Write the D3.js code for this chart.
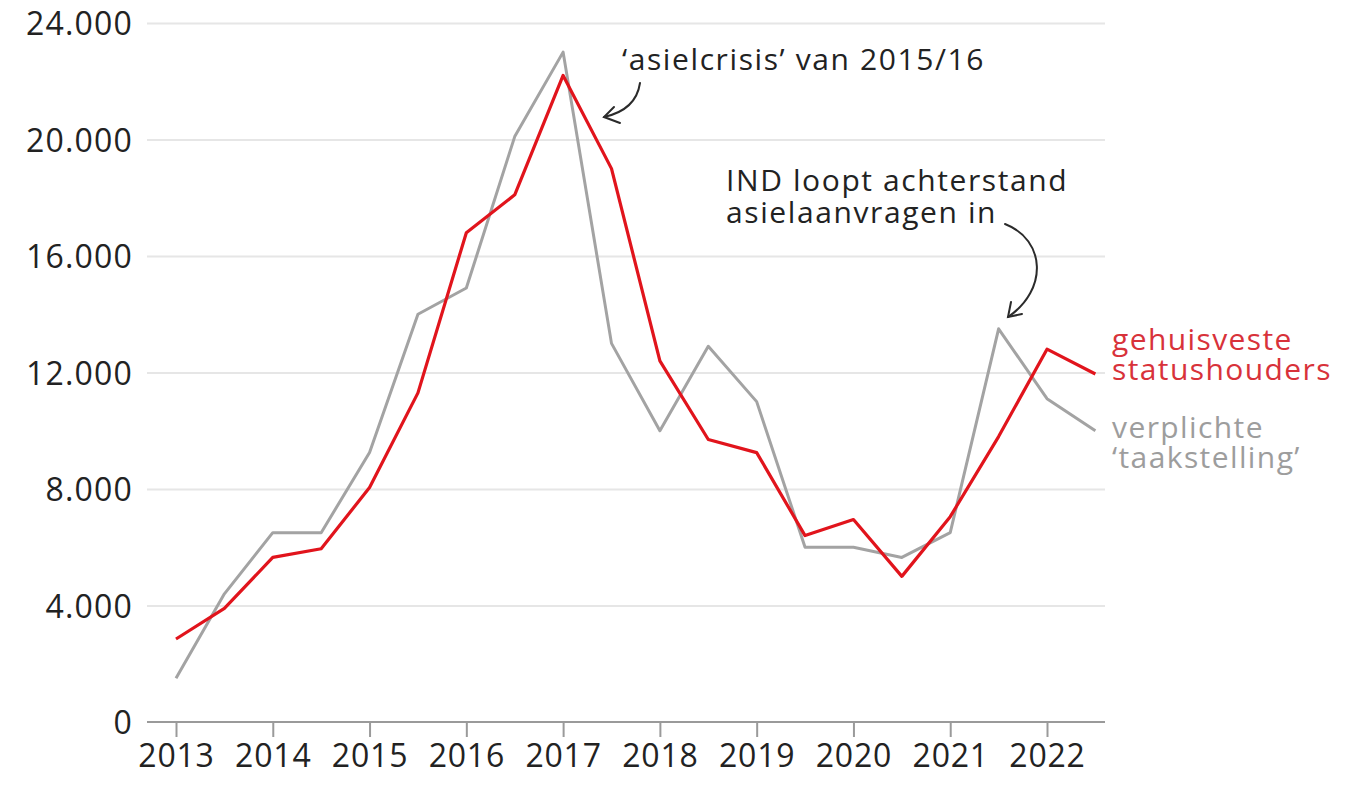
<!DOCTYPE html>
<html>
<head>
<meta charset="utf-8">
<script src="https://cdn.jsdelivr.net/npm/d3@7"></script>
<style>
  html, body { margin: 0; padding: 0; background: #fff; }
  svg text { font-family: "Open Sans", "Noto Sans", sans-serif; }
</style>
</head>
<body>
<div id="chart"></div>
<script>
// half-year steps, 2013 t/m 2022 tweede helft
var periods = [2013, 2013.5, 2014, 2014.5, 2015, 2015.5, 2016, 2016.5, 2017, 2017.5,
  2018, 2018.5, 2019, 2019.5, 2020, 2020.5, 2021, 2021.5, 2022, 2022.5];

var gehuisvest = [2850, 3900, 5650, 5950, 8050, 11300, 16800, 18100, 22200, 19000,
  12400, 9700, 9250, 6400, 6950, 5000, 7050, 9800, 12800, 11950];

var taakstelling = [1500, 4400, 6500, 6500, 9250, 14000, 14900, 20100, 23000, 13000,
  10000, 12900, 11000, 6000, 6000, 5650, 6500, 13500, 11100, 10000];

var yearTicks = [2013, 2014, 2015, 2016, 2017, 2018, 2019, 2020, 2021, 2022];
var valueTicks = [0, 4000, 8000, 12000, 16000, 20000, 24000];

var width = 1345;
var height = 785;
var red = "#e1141c";
var grey = "#a3a3a3";

var svg = d3.select("#chart").append("svg")
  .attr("width", width)
  .attr("height", height);

var x = d3.scaleLinear()
  .domain([2013, 2022])
  .range([176, 1047]);

var y = d3.scaleLinear()
  .domain([0, 24000])
  .range([722, 23]);

var fmt = function(d) { return d === 0 ? "0" : d3.format(",")(d).replace(/,/g, "."); };

// gridlines
var yAxis = d3.axisLeft(y)
  .tickValues(valueTicks)
  .tickSize(-(1105 - 147))
  .tickPadding(14)
  .tickFormat(fmt);

var gy = svg.append("g")
  .attr("transform", "translate(147,0)")
  .call(yAxis);
gy.select(".domain").remove();
gy.selectAll(".tick line")
  .attr("stroke", "#e6e6e6")
  .attr("stroke-width", 2);
gy.selectAll(".tick text")
  .attr("fill", "#222")
  .attr("font-size", 32)
  .attr("letter-spacing", 1.2)
  .attr("dy", "0.36em");
gy.selectAll(".tick").filter(function(d) { return d === 0; }).select("line").remove();

// x axis
var xAxis = d3.axisBottom(x)
  .tickValues(yearTicks)
  .tickSize(15)
  .tickPadding(7)
  .tickFormat(d3.format("d"));

var gx = svg.append("g")
  .attr("transform", "translate(0," + y(0) + ")")
  .call(xAxis);
gx.select(".domain").remove();
gx.append("line")
  .attr("x1", 147).attr("x2", 1105)
  .attr("stroke", "#9a9a9a")
  .attr("stroke-width", 2);
gx.selectAll(".tick line")
  .attr("stroke", "#9a9a9a")
  .attr("stroke-width", 2);
gx.selectAll(".tick text")
  .attr("fill", "#222")
  .attr("font-size", 32)
  .attr("letter-spacing", 0.8)
  .attr("dy", "0.72em");

// lines
var line = d3.line()
  .x(function(d) { return x(d[0]); })
  .y(function(d) { return y(d[1]); });

svg.append("path")
  .datum(d3.zip(periods, taakstelling))
  .attr("fill", "none")
  .attr("stroke", grey)
  .attr("stroke-width", 3)
  .attr("stroke-linejoin", "round")
  .attr("d", line);

svg.append("path")
  .datum(d3.zip(periods, gehuisvest))
  .attr("fill", "none")
  .attr("stroke", red)
  .attr("stroke-width", 3.2)
  .attr("stroke-linejoin", "round")
  .attr("d", line);

// labels at the line ends
var labels = [
  { lines: ["gehuisveste", "statushouders"], color: "#d8323a", top: 350 },
  { lines: ["verplichte", "\u2018taakstelling\u2019"], color: "#9d9d9d", top: 438 }
];
labels.forEach(function(l) {
  l.lines.forEach(function(s, i) {
    svg.append("text")
      .attr("x", 1112)
      .attr("y", l.top + i * 30)
      .attr("fill", l.color)
      .attr("font-size", 30)
      .attr("letter-spacing", 1.4)
      .text(s);
  });
});

// annotations
var ann = svg.append("g").attr("fill", "#222").attr("font-size", 30).attr("letter-spacing", 1.6);
ann.append("text")
  .attr("x", 622).attr("y", 70)
  .text("\u2018asielcrisis\u2019 van 2015/16");
ann.append("text").attr("x", 726).attr("y", 191).text("IND loopt achterstand");
ann.append("text").attr("x", 726).attr("y", 223).text("asielaanvragen in");

function arrow(pathStr, tip, a1, a2) {
  var g = svg.append("g")
    .attr("fill", "none")
    .attr("stroke", "#2b2b2b")
    .attr("stroke-width", 2)
    .attr("stroke-linecap", "round");
  g.append("path").attr("d", pathStr);
  g.append("path").attr("d", "M" + a1 + "L" + tip + "L" + a2);
}

// arrow 1 toward the 2017 peak
var p1 = d3.path();
p1.moveTo(640, 83);
p1.quadraticCurveTo(636, 110, 604, 117);
arrow(p1.toString(), [604, 117], [614, 107], [620, 123]);

// arrow 2 toward the 2021 peak
var p2 = d3.path();
p2.moveTo(1005, 224);
p2.bezierCurveTo(1046, 240, 1048, 290, 1008, 317);
arrow(p2.toString(), [1008, 317], [1011, 302], [1022, 314]);
</script>
</body>
</html>
